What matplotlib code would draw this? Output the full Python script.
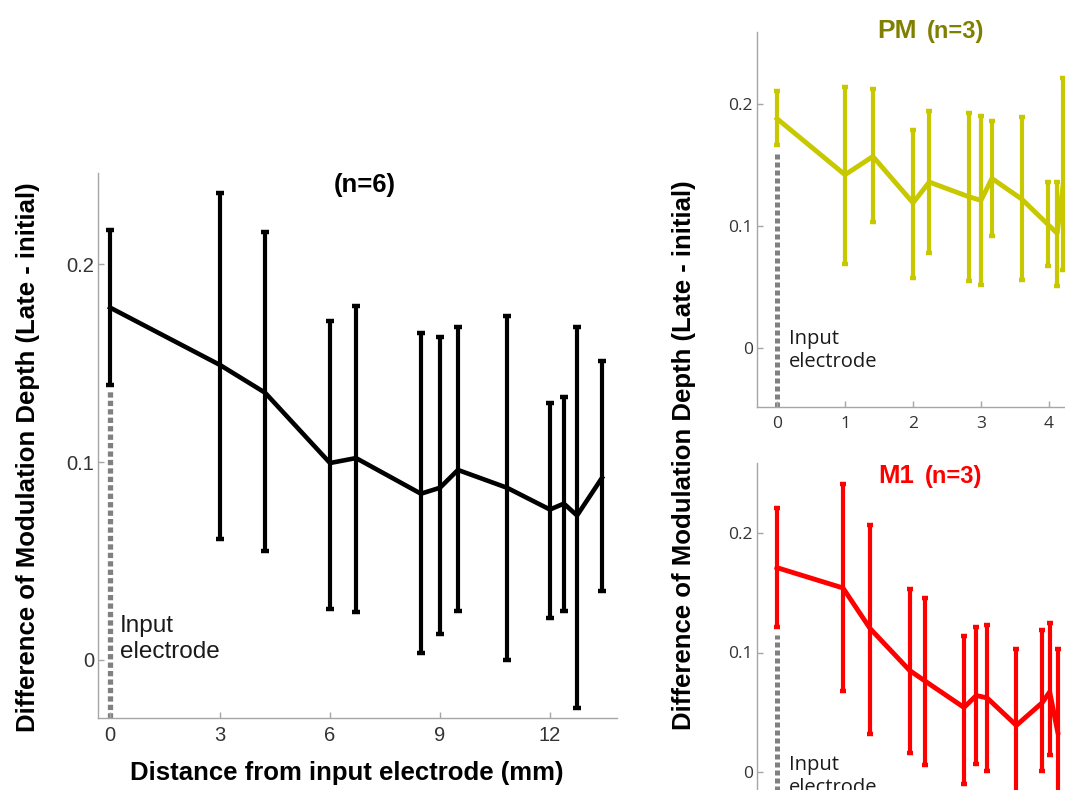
import matplotlib
matplotlib.use("Agg")
import matplotlib.pyplot as plt

# ---------------- data ----------------
main_x = [0, 3, 4.23, 6, 6.71, 8.48, 9.0, 9.49, 10.83, 12.0, 12.38, 12.74, 13.42]
main_mean = [0.178, 0.149, 0.135, 0.0995, 0.102, 0.084, 0.087, 0.096, 0.087, 0.076, 0.079, 0.073, 0.092]
main_hi = [0.217, 0.236, 0.216, 0.171, 0.179, 0.165, 0.163, 0.168, 0.174, 0.130, 0.133, 0.168, 0.151]
main_lo = [0.139, 0.061, 0.055, 0.026, 0.024, 0.0035, 0.013, 0.025, 0.0, 0.021, 0.025, -0.024, 0.035]

pm_x = [0, 1, 1.41, 2.0, 2.24, 2.82, 3.0, 3.16, 3.6, 3.99, 4.12, 4.21]
pm_mean = [0.188, 0.142, 0.157, 0.119, 0.136, 0.124, 0.121, 0.139, 0.122, 0.101, 0.094, 0.135]
pm_hi = [0.211, 0.214, 0.212, 0.179, 0.194, 0.193, 0.190, 0.186, 0.189, 0.136, 0.136, 0.221]
pm_lo = [0.166, 0.069, 0.103, 0.057, 0.078, 0.055, 0.052, 0.092, 0.056, 0.067, 0.051, 0.064]

m1_x = [0, 0.97, 1.37, 1.95, 2.18, 2.75, 2.93, 3.09, 3.52, 3.9, 4.01, 4.13]
m1_mean = [0.171, 0.154, 0.120, 0.085, 0.076, 0.054, 0.064, 0.062, 0.039, 0.058, 0.067, 0.033]
m1_hi = [0.221, 0.241, 0.207, 0.153, 0.146, 0.114, 0.121, 0.123, 0.103, 0.119, 0.125, 0.103]
m1_lo = [0.121, 0.068, 0.032, 0.016, 0.006, -0.010, 0.007, 0.001, -0.030, 0.001, 0.014, -0.035]

main_xticks = [0, 3, 6, 9, 12]
yticks = [0, 0.1, 0.2]
ytick_labels = ["0", "0.1", "0.2"]
pm_xticks = [0, 1, 2, 3, 4]

ylabel = "Difference of Modulation Depth (Late - initial)"
xlabel = "Distance from input electrode (mm)"

W, H = 1065, 790
fig = plt.figure(figsize=(W / 100, H / 100), dpi=100)

SPINE = "#a6a6a6"
TICKLBL = "#333333"
GRAY = "#808080"


def rect(left, top, right, bottom):
    return [left / W, 1 - bottom / H, (right - left) / W, (bottom - top) / H]


def style(ax, font, size, ypad, xpad):
    for s in ("top", "right"):
        ax.spines[s].set_visible(False)
    for s in ("left", "bottom"):
        ax.spines[s].set_color(SPINE)
        ax.spines[s].set_linewidth(1.0)
    ax.tick_params(direction="in", length=4, width=1, color=SPINE,
                   labelcolor=TICKLBL, labelsize=size)
    ax.tick_params(axis="y", pad=ypad)
    ax.tick_params(axis="x", pad=xpad)
    for lbl in ax.get_xticklabels() + ax.get_yticklabels():
        lbl.set_fontfamily(font)


# ---------------- main panel ----------------
ax = fig.add_axes(rect(98, 173, 617, 718))
ax.set_xlim(-0.33, 13.83)
ax.set_ylim(-0.0293, 0.246)
ax.plot([0, 0], [-0.0293, 0.137], color=GRAY, lw=3.8,
        linestyle=(0, (1.0, 0.6)), dash_capstyle="butt", zorder=1)
ax.errorbar(main_x, main_mean,
            yerr=[[m - l for m, l in zip(main_mean, main_lo)],
                  [h - m for m, h in zip(main_mean, main_hi)]],
            color="black", lw=3.3, elinewidth=3.0, capsize=3.0, capthick=3.2,
            zorder=3)
ax.set_xticks(main_xticks)
ax.set_xticklabels([str(t) for t in main_xticks])
ax.set_yticks(yticks)
ax.set_yticklabels(ytick_labels)
style(ax, "Liberation Sans", 14.5, 2.5, 6)
ax.text(0.27, 0.0105, "Input\nelectrode", ha="left", va="center",
        fontsize=17.5, family="Liberation Sans", color="#1a1a1a",
        linespacing=1.25)

fig.text(365 / W, 1 - 192 / H, "(n=6)", ha="center", va="baseline",
         fontsize=18.5, fontweight="bold", family="Liberation Sans")
fig.text(28 / W, 1 - 457 / H, ylabel, rotation=90, ha="center", va="center",
         fontsize=18.5, fontweight="bold", family="Liberation Sans")
fig.text(347 / W, 1 - 773 / H, xlabel, ha="center", va="center",
         fontsize=18.5, fontweight="bold", family="Liberation Sans")

# ---------------- right panels ----------------
PX_UNIT = 68.0
XMIN_R, XMAX_R = -0.29, 6.5


def right_panel(top, bottom, y0px, pxper01, xs, mean, lo, hi, color,
                label_y, xticks):
    left = 777 + XMIN_R * PX_UNIT
    right = 777 + XMAX_R * PX_UNIT
    a = fig.add_axes(rect(left, top, right, bottom))
    a.set_xlim(XMIN_R, XMAX_R)
    ymax = (y0px - top) / pxper01 * 0.1
    ymin = -(bottom - y0px) / pxper01 * 0.1
    a.set_ylim(ymin, ymax)
    a.plot([0, 0], [ymin, lo[0] - 0.006], color=GRAY, lw=3.6,
           linestyle=(0, (1.0, 0.6)), dash_capstyle="butt", zorder=1)
    a.errorbar(xs, mean,
               yerr=[[m - l for m, l in zip(mean, lo)],
                     [h - m for m, h in zip(mean, hi)]],
               color=color, lw=3.5, elinewidth=3.0, capsize=2.4, capthick=3.2,
               zorder=3)
    a.set_xticks(xticks)
    a.set_xticklabels([str(t) for t in xticks])
    a.set_yticks(yticks)
    a.set_yticklabels(ytick_labels)
    style(a, "Open Sans", 12.5, 3, 6.5)
    a.text(0.18, label_y, "Input\nelectrode", ha="left", va="center",
           fontsize=14.5, family="Open Sans", color="#1a1a1a")
    return a


right_panel(32, 407, 348, 122.0, pm_x, pm_mean, pm_lo, pm_hi,
            "#c8c800", -0.002, pm_xticks)
right_panel(463, 829, 772, 119.5, m1_x, m1_mean, m1_lo, m1_hi,
            "#ff0000", -0.0035, [])

# titles
fig.text(877 / W, 1 - 38 / H, "PM", ha="left", va="baseline", fontsize=19,
         fontweight="bold", family="Liberation Sans", color="#808000")
fig.text(927 / W, 1 - 38 / H, "(n=3)", ha="left", va="baseline", fontsize=17,
         fontweight="bold", family="Liberation Sans", color="#808000")
fig.text(878 / W, 1 - 483 / H, "M1", ha="left", va="baseline", fontsize=18.5,
         fontweight="bold", family="Liberation Sans", color="#ff0000")
fig.text(925 / W, 1 - 483 / H, "(n=3)", ha="left", va="baseline", fontsize=17,
         fontweight="bold", family="Liberation Sans", color="#ff0000")

fig.text(684 / W, 1 - 455 / H, ylabel, rotation=90, ha="center", va="center",
         fontsize=18.5, fontweight="bold", family="Liberation Sans")

fig.savefig("out.png", dpi=100)
